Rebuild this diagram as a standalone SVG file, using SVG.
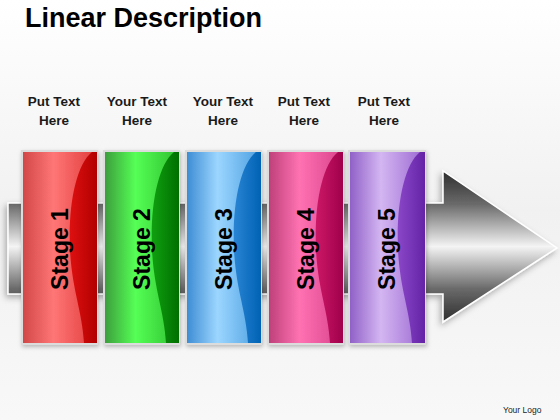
<svg xmlns="http://www.w3.org/2000/svg" width="560" height="420" viewBox="0 0 560 420">
<style>
.title{font-family:"Liberation Sans",Arial,sans-serif;font-weight:bold;font-size:27px;fill:#000}
.lbl{font-family:"Liberation Sans",Arial,sans-serif;font-weight:bold;font-size:13.5px;fill:#1a1a1a;text-anchor:middle}
.stage{font-family:"Liberation Sans",Arial,sans-serif;font-weight:bold;font-size:23px;fill:#000;text-anchor:middle}
.logo{font-family:"Liberation Sans",Arial,sans-serif;font-size:8.5px;fill:#222}
.frame{stroke:#dcdcdc;stroke-width:2}
</style>
<defs>
<linearGradient id="bg" x1="0" y1="0" x2="0" y2="1">
<stop offset="0" stop-color="#ffffff"/><stop offset="0.5" stop-color="#f1f1f1"/><stop offset="1" stop-color="#f8f8f8"/>
</linearGradient>
<linearGradient id="metal" gradientUnits="userSpaceOnUse" x1="0" y1="171" x2="0" y2="322">
<stop offset="0" stop-color="#2e2e2e"/><stop offset="0.22" stop-color="#6a6a6a"/><stop offset="0.5" stop-color="#f4f4f4"/><stop offset="0.78" stop-color="#6a6a6a"/><stop offset="1" stop-color="#2e2e2e"/>
</linearGradient>
<filter id="sh" x="-10%" y="-10%" width="120%" height="130%">
<feDropShadow dx="-2" dy="3" stdDeviation="3" flood-color="#000" flood-opacity="0.3"/>
</filter>
<filter id="bsh" x="-10%" y="-10%" width="130%" height="120%">
<feDropShadow dx="1" dy="2" stdDeviation="2" flood-color="#000" flood-opacity="0.25"/>
</filter>
<linearGradient id="r1" x1="0" x2="1"><stop offset="0" stop-color="#d04646"/><stop offset="0.42" stop-color="#ff7676"/><stop offset="1" stop-color="#e03a3a"/></linearGradient>
<linearGradient id="r2" x1="0" x2="1"><stop offset="0" stop-color="#dd1010"/><stop offset="1" stop-color="#b20000"/></linearGradient>
<linearGradient id="g1" x1="0" x2="1"><stop offset="0" stop-color="#3c9c3c"/><stop offset="0.42" stop-color="#55ff55"/><stop offset="1" stop-color="#2fbf2f"/></linearGradient>
<linearGradient id="g2" x1="0" x2="1"><stop offset="0" stop-color="#10a010"/><stop offset="1" stop-color="#007000"/></linearGradient>
<linearGradient id="b1" x1="0" x2="1"><stop offset="0" stop-color="#3a8ad2"/><stop offset="0.42" stop-color="#9cd6ff"/><stop offset="1" stop-color="#4a9ee0"/></linearGradient>
<linearGradient id="b2" x1="0" x2="1"><stop offset="0" stop-color="#2a84d4"/><stop offset="1" stop-color="#0062b4"/></linearGradient>
<linearGradient id="p1" x1="0" x2="1"><stop offset="0" stop-color="#bc3f78"/><stop offset="0.42" stop-color="#ff72b2"/><stop offset="1" stop-color="#d8408a"/></linearGradient>
<linearGradient id="p2" x1="0" x2="1"><stop offset="0" stop-color="#cc1866"/><stop offset="1" stop-color="#a0004c"/></linearGradient>
<linearGradient id="v1" x1="0" x2="1"><stop offset="0" stop-color="#8e5ec6"/><stop offset="0.42" stop-color="#d4b6f2"/><stop offset="1" stop-color="#9a66d0"/></linearGradient>
<linearGradient id="v2" x1="0" x2="1"><stop offset="0" stop-color="#8a48c8"/><stop offset="1" stop-color="#6422a6"/></linearGradient>
</defs>

<rect x="0" y="0" width="560" height="420" fill="url(#bg)"/>

<text class="title" x="25" y="27">Linear Description</text>

<g id="arrow">
<path d="M8,203 L443,203 L443,171 L557,248 L443,322 L443,294 L8,294 Z" fill="url(#metal)" stroke="#ffffff" stroke-width="1.5" filter="url(#sh)"/>
</g>

<g id="stage1">
<text class="lbl" x="54" y="106">Put Text</text>
<text class="lbl" x="54" y="125">Here</text>
<rect class="frame" x="22" y="151" width="75" height="193" fill="url(#r1)" filter="url(#bsh)"/>
<path d="M97,152 L97,343 L84,343 C82,310 72,290 70,250 C68,205 76,165 92,152 Z" fill="url(#r2)"/>
<text class="stage" transform="translate(68,249) rotate(-90)">Stage 1</text>
</g>

<g id="stage2">
<text class="lbl" x="137" y="106">Your Text</text>
<text class="lbl" x="137" y="125">Here</text>
<rect class="frame" x="104" y="151" width="75" height="193" fill="url(#g1)" filter="url(#bsh)"/>
<path d="M179,152 L179,343 L166,343 C164,310 154,290 152,250 C150,205 158,165 174,152 Z" fill="url(#g2)"/>
<text class="stage" transform="translate(150,249) rotate(-90)">Stage 2</text>
</g>

<g id="stage3">
<text class="lbl" x="223" y="106">Your Text</text>
<text class="lbl" x="223" y="125">Here</text>
<rect class="frame" x="186" y="151" width="75" height="193" fill="url(#b1)" filter="url(#bsh)"/>
<path d="M261,152 L261,343 L248,343 C246,310 236,290 234,250 C232,205 240,165 256,152 Z" fill="url(#b2)"/>
<text class="stage" transform="translate(232,249) rotate(-90)">Stage 3</text>
</g>

<g id="stage4">
<text class="lbl" x="304" y="106">Put Text</text>
<text class="lbl" x="304" y="125">Here</text>
<rect class="frame" x="268" y="151" width="75" height="193" fill="url(#p1)" filter="url(#bsh)"/>
<path d="M343,152 L343,343 L330,343 C328,310 318,290 316,250 C314,205 322,165 338,152 Z" fill="url(#p2)"/>
<text class="stage" transform="translate(314,249) rotate(-90)">Stage 4</text>
</g>

<g id="stage5">
<text class="lbl" x="384" y="106">Put Text</text>
<text class="lbl" x="384" y="125">Here</text>
<rect class="frame" x="349" y="151" width="76" height="193" fill="url(#v1)" filter="url(#bsh)"/>
<path d="M425,152 L425,343 L412,343 C410,310 400,290 398,250 C396,205 404,165 420,152 Z" fill="url(#v2)"/>
<text class="stage" transform="translate(395,249) rotate(-90)">Stage 5</text>
</g>

<text class="logo" x="503" y="413">Your Logo</text>
</svg>
